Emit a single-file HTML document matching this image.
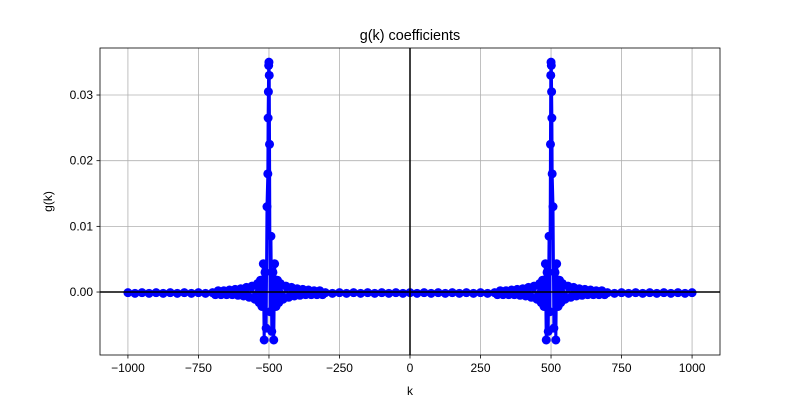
<!DOCTYPE html>
<html><head><meta charset="utf-8"><style>
body{margin:0;background:#fff;}
svg{display:block;font-family:"Liberation Sans","DejaVu Sans",sans-serif;}
</style></head><body>
<svg id="chart" width="800" height="400"></svg>
<script>
const xTicks=[-1000,-750,-500,-250,0,250,500,750,1000];
const xTickLabels=["\u22121000","\u2212750","\u2212500","\u2212250","0","250","500","750","1000"];
const yTicks=[0,0.01,0.02,0.03];
const yTickLabels=["0.00","0.01","0.02","0.03"];
const kLeft=[-1000,-975,-950,-925,-900,-875,-850,-825,-800,-775,-750,-725,-700,
-690,-680,-670,-660,-650,-640,-630,-620,-610,-600,-590,-580,-570,-560,-550,-540,
-535,-530,-525,
-520,-517,-514,-510,-507,-504,-503,-502,-501,-500,-499,-498,-496,-493,-490,-486,-483,-480,
-475,-470,-465,
-460,-450,-440,-430,-420,-410,-400,-390,-380,-370,-360,-350,-340,-330,-320,-310,
-300,-275,-250,-225,-200,-175,-150,-125,-100,-75,-50,-25];
const gLeft=[-0.0001,-0.0002,-0.0001,-0.0002,-0.0001,-0.0002,-0.0001,-0.0002,-0.0001,-0.0002,-0.0001,-0.0002,-0.0001,
-0.0004,0.0002,-0.0004,0.0002,-0.0004,0.0003,-0.0004,0.0004,-0.0005,0.0005,-0.0006,0.0007,-0.0008,0.0009,-0.0011,0.0013,-0.0016,0.0018,-0.0022,
0.0043,-0.0073,0.0030,-0.0055,0.013,0.018,0.0265,0.0305,0.0345,0.035,0.033,0.0225,-0.0030,0.0085,-0.0060,0.0030,-0.0073,0.0043,
-0.0022,0.0018,-0.0016,
0.0013,-0.0011,0.0009,-0.0008,0.0007,-0.0006,0.0005,-0.0005,0.0004,-0.0004,0.0003,-0.0004,0.0002,-0.0004,0.0002,-0.0004,
-0.0001,-0.0002,-0.0001,-0.0002,-0.0001,-0.0002,-0.0001,-0.0002,-0.0001,-0.0002,-0.0001,-0.0002];
const kRight=[0,25,50,75,100,125,150,175,200,225,250,275,300,
310,320,330,340,350,360,370,380,390,400,410,420,430,440,450,460,
465,470,475,
480,483,486,490,493,496,498,499,500,501,502,503,504,507,510,514,517,520,
525,530,535,540,550,560,570,580,590,600,610,620,630,640,650,660,670,680,690,
700,725,750,775,800,825,850,875,900,925,950,975,1000];
const gRight=[-0.0001,-0.0002,-0.0001,-0.0002,-0.0001,-0.0002,-0.0001,-0.0002,-0.0001,-0.0002,-0.0001,-0.0002,-0.0001,
-0.0004,0.0002,-0.0004,0.0002,-0.0004,0.0003,-0.0004,0.0004,-0.0005,0.0005,-0.0006,0.0007,-0.0008,0.0009,-0.0011,0.0013,
-0.0016,0.0018,-0.0022,
0.0043,-0.0073,0.0030,-0.0060,0.0085,-0.0030,0.0225,0.033,0.035,0.0345,0.0305,0.0265,0.018,0.013,-0.0055,0.0030,-0.0073,0.0043,
-0.0022,0.0018,-0.0016,0.0013,-0.0011,0.0009,-0.0008,0.0007,-0.0006,0.0005,-0.0005,0.0004,-0.0004,0.0003,-0.0004,0.0002,-0.0004,0.0002,-0.0004,
-0.0001,-0.0002,-0.0001,-0.0002,-0.0001,-0.0002,-0.0001,-0.0002,-0.0001,-0.0002,-0.0001,-0.0002,-0.0001];

const svg=document.getElementById('chart');
const NS='http://www.w3.org/2000/svg';
const L=100,R=720,T=48,B=355;
const xMin=-1099,xMax=1099,yMin=-0.00959,yMax=0.03716;
const X=v=>L+(v-xMin)/(xMax-xMin)*(R-L);
const Y=v=>B-(v-yMin)/(yMax-yMin)*(B-T);
function mk(tag,attrs,parent){const e=document.createElementNS(NS,tag);for(const a in attrs)e.setAttribute(a,attrs[a]);(parent||svg).appendChild(e);return e;}

const grid=mk('g',{});


xTicks.forEach((t,i)=>{
  mk('line',{x1:X(t),x2:X(t),y1:T,y2:B,stroke:'#b0b0b0','stroke-width':0.8},grid);
  mk('line',{x1:X(t),x2:X(t),y1:B,y2:B+3.5,stroke:'#000','stroke-width':0.8});
  const tx=mk('text',{x:X(t),y:B+17,'text-anchor':'middle','font-size':12});
  tx.textContent=xTickLabels[i];
  
  
});
yTicks.forEach((t,i)=>{
  mk('line',{x1:L,x2:R,y1:Y(t),y2:Y(t),stroke:'#b0b0b0','stroke-width':0.8},grid);
  mk('line',{x1:L-3.5,x2:L,y1:Y(t),y2:Y(t),stroke:'#000','stroke-width':0.8});
  const tx=mk('text',{x:L-7,y:Y(t)+4,'text-anchor':'end','font-size':12});
  tx.textContent=yTickLabels[i];
  
  
});

const ks=kLeft.concat(kRight), gs=gLeft.concat(gRight);
const series=mk('g',{});


mk('polyline',{points:ks.map((k,i)=>X(k)+','+Y(gs[i])).join(' '),fill:'none',stroke:'#0000ff','stroke-width':3,'stroke-linejoin':'round'},series);
ks.forEach((k,i)=>{
  const c=mk('circle',{cx:X(k),cy:Y(gs[i]),r:4.5,fill:'#0000ff'},series);
  
  
});

const zx=mk('line',{x1:L,x2:R,y1:Y(0),y2:Y(0),stroke:'#000','stroke-width':1.5});


const zy=mk('line',{x1:X(0),x2:X(0),y1:T,y2:B,stroke:'#000','stroke-width':1.5});



const frame=mk('rect',{x:L,y:T,width:R-L,height:B-T,fill:'none',stroke:'#000','stroke-width':0.8});



const title=mk('text',{x:(L+R)/2,y:40,'text-anchor':'middle','font-size':14.4});
title.textContent='g(k) coefficients';


const xl=mk('text',{x:(L+R)/2,y:395,'text-anchor':'middle','font-size':12});
xl.textContent='k';


const yl=mk('text',{x:52,y:(T+B)/2,'text-anchor':'middle','font-size':12,transform:'rotate(-90 52 '+((T+B)/2)+')'});
yl.textContent='g(k)';


</script>
</body></html>
